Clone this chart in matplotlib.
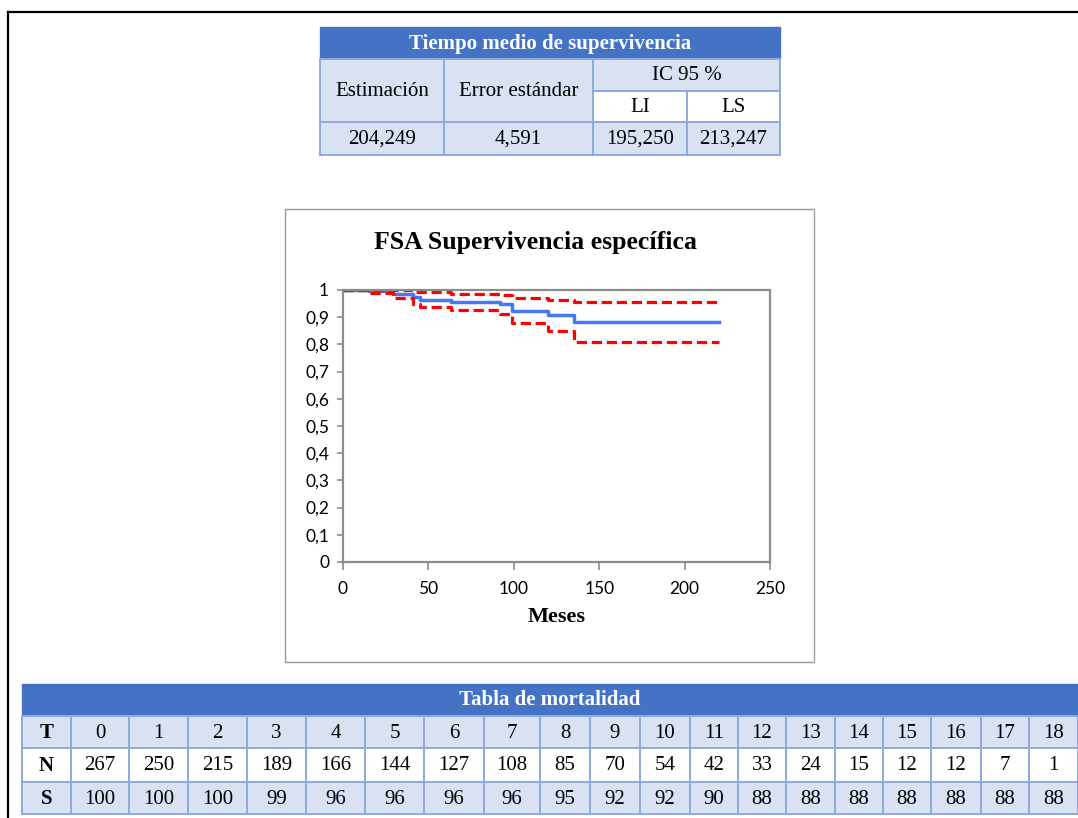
import matplotlib.pyplot as plt
from matplotlib.patches import Rectangle

# Tabla superior
tiempo_cabecera = "Tiempo medio de supervivencia"
tiempo_columnas = ["Estimación", "Error estándar", "IC 95 %"]
ic_sub = ["LI", "LS"]
tiempo_valores = ["204,249", "4,591", "195,250", "213,247"]

# Curva de supervivencia (meses, proporción)
km_t = [0, 15, 29, 41, 45, 63, 92, 99, 120, 135, 220]
km_s = [1.0, 0.995, 0.987, 0.973, 0.964, 0.957, 0.947, 0.922, 0.907, 0.882, 0.882]
li_t = [0, 15, 29, 41, 45, 63, 92, 99, 120, 135, 220]
li_s = [1.0, 0.988, 0.972, 0.948, 0.938, 0.927, 0.911, 0.878, 0.851, 0.810, 0.810]
ls_t = [0, 41, 63, 92, 99, 120, 135, 220]
ls_s = [1.0, 0.993, 0.986, 0.982, 0.970, 0.964, 0.955, 0.955]

# Tabla de mortalidad
mort_T = list(range(19))
mort_N = [267, 250, 215, 189, 166, 144, 127, 108, 85, 70, 54, 42, 33, 24, 15, 12, 12, 7, 1]
mort_S = [100, 100, 100, 99, 96, 96, 96, 96, 95, 92, 92, 90, 88, 88, 88, 88, 88, 88, 88]

azul = "#4472C4"
claro = "#D9E2F3"
borde = "#8EAADB"
serif = "Liberation Serif"

fig = plt.figure(figsize=(10.78, 8.18), dpi=100)
page = fig.add_axes([0, 0, 1, 1])
page.set_xlim(0, 1078)
page.set_ylim(818, 0)
page.axis("off")

# marco de la página
page.plot([8, 1078], [12, 12], color="black", lw=1.6)
page.plot([8, 8], [12, 818], color="black", lw=1.6)


def celda(x0, y0, x1, y1, fc, txt="", color="black", weight="normal", size=15):
    page.add_patch(Rectangle((x0, y0), x1 - x0, y1 - y0, facecolor=fc,
                             edgecolor=borde, lw=1.4))
    if txt != "":
        page.text((x0 + x1) / 2, (y0 + y1) / 2 + 1, txt, ha="center", va="center",
                  color=color, fontsize=size, fontweight=weight, family=serif)


# tabla superior
cx = [320, 444, 593, 687, 780]
page.add_patch(Rectangle((320, 27), 460, 32, facecolor=azul, edgecolor=azul))
page.text(550, 44, tiempo_cabecera, ha="center", va="center", color="white",
          fontsize=15, fontweight="bold", family=serif)
celda(cx[0], 59, cx[1], 122, claro, tiempo_columnas[0])
celda(cx[1], 59, cx[2], 122, claro, tiempo_columnas[1])
celda(cx[2], 59, cx[4], 91, claro, tiempo_columnas[2])
celda(cx[2], 91, cx[3], 122, "white", ic_sub[0])
celda(cx[3], 91, cx[4], 122, "white", ic_sub[1])
for i, v in enumerate(tiempo_valores):
    celda(cx[i], 122, cx[i + 1], 155, claro, v)

# recuadro del gráfico
page.add_patch(Rectangle((285, 209), 529, 453, facecolor="none", edgecolor="#9a9a9a", lw=1))
page.text(535, 243, "FSA Supervivencia específica", ha="center", va="center",
          fontsize=18.5, fontweight="bold", family=serif)
page.text(557, 617, "Meses", ha="center", va="center", fontsize=16,
          fontweight="bold", family=serif)

ax = fig.add_axes([343 / 1078, 1 - 562 / 818, 427 / 1078, 272 / 818])
ax.step(km_t, km_s, where="post", color="#4479F2", lw=2.5)
ax.step(li_t, li_s, where="post", color="#FF0000", lw=2.3, dashes=(3.2, 1.5))
ax.step(ls_t, ls_s, where="post", color="#FF0000", lw=2.3, dashes=(3.2, 1.5))
ax.set_xlim(0, 250)
ax.set_ylim(0, 1)
ax.set_xticks([0, 50, 100, 150, 200, 250])
ax.set_yticks([i / 10 for i in range(11)])
ax.set_yticklabels(["0"] + [f"0,{i}" for i in range(1, 10)] + ["1"])
for s in ax.spines.values():
    s.set_color("#8c8c8c")
    s.set_linewidth(1.6)
ax.tick_params(axis="both", colors="#8c8c8c", width=1.2, labelcolor="black",
               labelsize=12.5)
ax.tick_params(axis="y", length=4, pad=6)
ax.tick_params(axis="x", length=6, pad=8)
for lab in ax.get_xticklabels() + ax.get_yticklabels():
    lab.set_family("Lato")

# tabla de mortalidad
bx = [22, 71, 129, 188, 247, 306, 365, 424, 484, 540, 590, 640, 690, 738,
      786, 835, 883, 931, 981, 1029, 1078]
ry = [716, 748, 782, 814]
page.add_patch(Rectangle((22, 684), 1056, 32, facecolor=azul, edgecolor=azul))
page.text(550, 700, "Tabla de mortalidad", ha="center", va="center", color="white",
          fontsize=15, fontweight="bold", family=serif)
filas = [("T", mort_T, claro), ("N", mort_N, "white"), ("S", mort_S, claro)]
for r, (nombre, vals, fc) in enumerate(filas):
    celda(bx[0], ry[r], bx[1], ry[r + 1], fc, nombre, weight="bold")
    for j, v in enumerate(vals):
        celda(bx[j + 1], ry[r], bx[j + 2], ry[r + 1], fc, str(v))

fig.savefig("out.png", dpi=100)
